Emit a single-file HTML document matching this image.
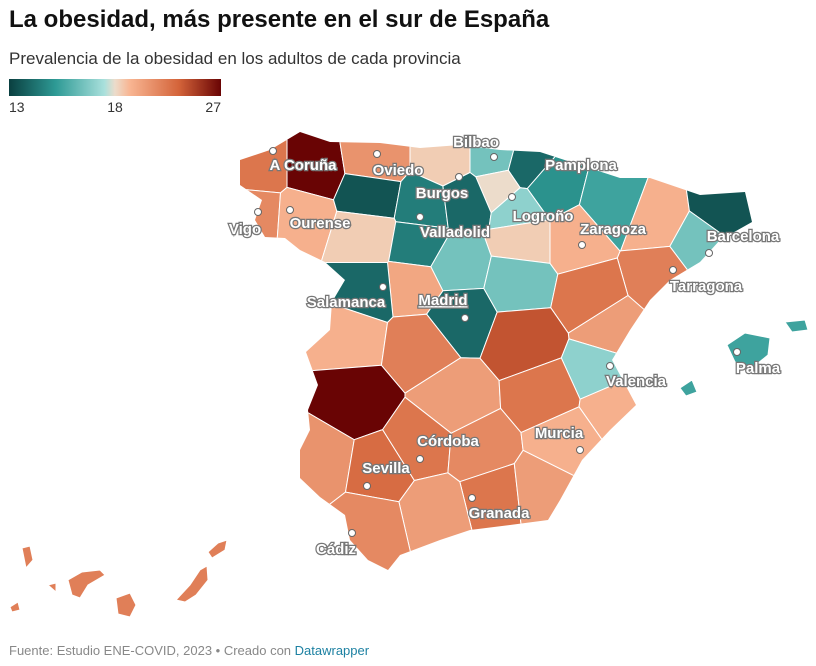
<!DOCTYPE html>
<html><head><meta charset="utf-8">
<style>
body{margin:0;background:#fff;font-family:"Liberation Sans",sans-serif;}
#wrap{position:relative;width:816px;height:666px;overflow:hidden;}
</style></head>
<body>
<div id="wrap">
<svg id="svg" width="816" height="666">
<defs>
<linearGradient id="lg" x1="0" x2="1">
<stop offset="0" stop-color="#0a3f40"/><stop offset="0.22" stop-color="#2e9a95"/><stop offset="0.45" stop-color="#a9e0dc"/><stop offset="0.5" stop-color="#ecdccb"/><stop offset="0.57" stop-color="#f8b592"/><stop offset="0.8" stop-color="#d4643a"/><stop offset="1" stop-color="#690404"/>
</linearGradient>
<clipPath id="spain"><polygon id="outline" points=""/></clipPath>
</defs>
<text x="9" y="27" font-size="24" font-weight="bold" fill="#111">La obesidad, más presente en el sur de España</text>
<text x="9" y="64" font-size="17" fill="#333">Prevalencia de la obesidad en los adultos de cada provincia</text>
<rect x="9" y="79" width="212" height="17" fill="url(#lg)"/>
<text x="9" y="112" font-size="14" fill="#333">13</text>
<text x="115" y="112" font-size="14" fill="#333" text-anchor="middle">18</text>
<text x="221" y="112" font-size="14" fill="#333" text-anchor="end">27</text>
<g id="cells" clip-path="url(#spain)"></g>
<g id="islands"></g>
<g id="labels"></g>
<text x="9" y="655" font-size="13" fill="#888">Fuente: Estudio ENE-COVID, 2023 • Creado con <tspan fill="#1d81a2">Datawrapper</tspan></text>
</svg>
</div>
<script>
const provinces=["A Coruña","Lugo","Pontevedra","Ourense","Asturias","Cantabria","Bizkaia","Gipuzkoa","Álava","Navarra","León","Palencia","Burgos","La Rioja","Zamora","Valladolid","Soria","Huesca","Zaragoza","Lleida","Girona","Barcelona","Tarragona","Segovia","Ávila","Salamanca","Madrid","Guadalajara","Teruel","Castellón","Cáceres","Toledo","Cuenca","Valencia","Badajoz","Ciudad Real","Albacete","Alicante","Huelva","Sevilla","Córdoba","Jaén","Granada","Murcia","Almería","Málaga","Cádiz"];
const values=[22.5,27,21.5,19.5,21,18.5,16.5,14,18,15,13.5,14.5,14,17,18.5,14.5,18.5,15.5,19.5,19.5,13.5,16.5,22,16.5,20,14,14,16.5,22.5,20.5,19.5,22,24,17,27,20.5,22.5,19.5,21,23,22.5,21.5,22.5,19.5,20.5,20.5,21.5];
const siteX=[262,312,258,300,375,445,495,525,500,548,370,425,465,520,365,420,525,615,575,655,725,700,660,455,415,365,458,520,590,612,350,420,525,600,355,455,545,615,320,380,420,480,495,565,540,435,370];
const siteY=[170,170,212,215,160,160,160,168,185,188,195,205,200,208,235,245,240,205,240,220,210,245,275,265,285,290,315,280,295,330,335,345,340,370,400,400,395,405,460,470,445,450,495,440,490,510,525];
const islandNames=["Islas Baleares","Canarias"];
const islandValues=[15.5,22];
const stops=[[0,[10,63,64]],[0.22,[46,154,149]],[0.45,[169,224,220]],[0.5,[236,220,203]],[0.57,[248,181,146]],[0.8,[212,100,58]],[1,[105,4,4]]];
function color(v){const t=v<18?0.5*(v-13)/5:0.5+0.5*(v-18)/9;
for(let i=1;i<stops.length;i++){if(t<=stops[i][0]){const a=stops[i-1],b=stops[i],f=(t-a[0])/(b[0]-a[0]);
return 'rgb('+a[1].map((c,k)=>Math.round(c+(b[1][k]-c)*f)).join(',')+')';}}return 'rgb(105,4,4)';}
const outline=[[240,160],[270,150],[300,132],[330,142],[380,143],[420,148],[460,145],[500,150],[540,152],[580,165],[620,178],[650,178],[700,195],[745,192],[752,222],[720,240],[700,262],[670,280],[650,300],[630,330],[612,360],[636,405],[610,430],[582,460],[560,500],[548,520],[510,525],[470,530],[440,540],[400,555],[388,570],[368,560],[350,540],[345,515],[320,497],[300,478],[300,450],[310,430],[308,410],[318,385],[306,352],[330,330],[332,302],[345,280],[325,262],[300,250],[285,238],[265,237],[255,220],[262,200],[240,185]];
document.getElementById('outline').setAttribute('points',outline.map(p=>p.join(',')).join(' '));
const NS="http://www.w3.org/2000/svg";
function clip(poly,a,b,c){const out=[];for(let i=0;i<poly.length;i++){const p=poly[i],q=poly[(i+1)%poly.length];
const fp=a*p[0]+b*p[1]-c,fq=a*q[0]+b*q[1]-c;if(fp<=0)out.push(p);
if((fp<0&&fq>0)||(fp>0&&fq<0)){const t=fp/(fp-fq);out.push([p[0]+(q[0]-p[0])*t,p[1]+(q[1]-p[1])*t]);}}return out;}
const cells=document.getElementById('cells');
for(let i=0;i<provinces.length;i++){let poly=[[200,100],[800,100],[800,600],[200,600]];
for(let j=0;j<provinces.length;j++){if(i===j)continue;const a=siteX[j]-siteX[i],b=siteY[j]-siteY[i];
const c=(siteX[j]*siteX[j]-siteX[i]*siteX[i]+siteY[j]*siteY[j]-siteY[i]*siteY[i])/2;poly=clip(poly,a,b,c);}
const el=document.createElementNS(NS,'polygon');el.setAttribute('points',poly.map(p=>p[0].toFixed(1)+','+p[1].toFixed(1)).join(' '));
el.setAttribute('fill',color(values[i]));el.setAttribute('stroke','#fff');el.setAttribute('stroke-width','1');


cells.appendChild(el);}
const isl=document.getElementById('islands');
const islandShapes=[["M727,345 L745,333 L770,338 L768,355 L752,368 L735,362 Z","M785,322 L805,320 L808,330 L792,332 Z","M680,388 L692,380 L697,392 L686,396 Z"],
["M22,548 L30,546 L33,560 L26,568 Z","M48,585 L56,583 L56,592 Z","M68,580 L82,572 L100,570 L105,575 L88,585 L80,598 L72,595 Z","M116,598 L130,593 L136,605 L130,617 L118,614 Z","M176,600 L190,585 L200,570 L207,566 L208,580 L196,595 L185,602 Z","M208,552 L218,543 L227,540 L225,550 L212,558 Z","M10,607 L18,602 L20,610 L12,612 Z"]];
islandShapes.forEach((arr,k)=>{arr.forEach(d=>{const p=document.createElementNS(NS,'path');p.setAttribute('d',d);p.setAttribute('fill',color(islandValues[k]));p.setAttribute('stroke','#fff');


isl.appendChild(p);});});
const labels=[["Bilbao",494,157,476,147],["A Coruña",273,151,303,170],["Oviedo",377,154,398,175],["Pamplona",548,166,581,170],["Burgos",459,177,442,198],["Vigo",258,212,245,234],["Ourense",290,210,320,228],["Logroño",512,197,543,221],["Zaragoza",582,245,613,234],["Valladolid",420,217,455,237],["Barcelona",709,253,743,241],["Salamanca",383,287,346,307],["Madrid",465,318,443,305],["Tarragona",673,270,706,291],["Palma",737,352,758,373],["Valencia",610,366,636,386],["Córdoba",420,459,448,446],["Murcia",580,450,559,438],["Sevilla",367,486,386,473],["Granada",472,498,499,518],["Cádiz",352,533,336,554]];
const lg=document.getElementById('labels');
labels.forEach(l=>{const c=document.createElementNS(NS,'circle');c.setAttribute('cx',l[1]);c.setAttribute('cy',l[2]);c.setAttribute('r',3.5);c.setAttribute('fill','#fff');c.setAttribute('stroke','#666');


lg.appendChild(c);
const t=document.createElementNS(NS,'text');t.setAttribute('x',l[3]);t.setAttribute('y',l[4]);t.setAttribute('text-anchor','middle');t.setAttribute('font-size','15');t.setAttribute('font-weight','bold');
t.setAttribute('fill','#fff');t.setAttribute('stroke','#777');t.setAttribute('stroke-width','2.5');t.setAttribute('paint-order','stroke');
if(l[0]==='Madrid')t.setAttribute('text-decoration','underline');t.textContent=l[0];


lg.appendChild(t);});
</script>
</body></html>
